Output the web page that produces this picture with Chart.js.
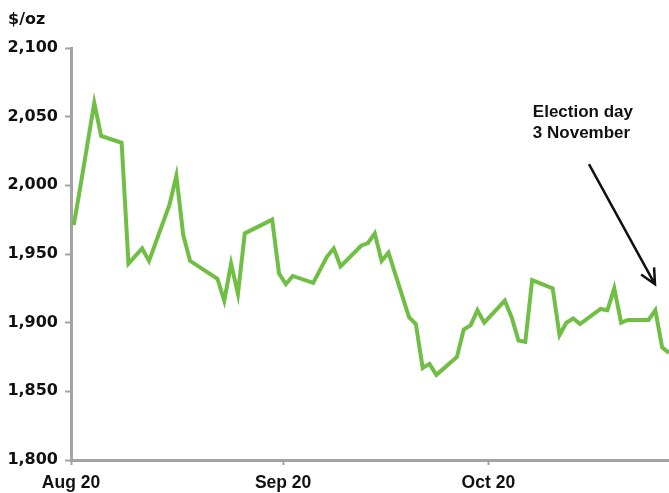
<!DOCTYPE html>
<html>
<head>
<meta charset="utf-8">
<script src="https://cdn.jsdelivr.net/npm/chart.js@4"></script>
<style>
  html, body { margin: 0; padding: 0; background: #fff; }
  #wrap { width: 669px; height: 493px; }
</style>
</head>
<body>
<div id="wrap"><canvas id="goldChart" width="669" height="493"></canvas></div>
<script>
// days counted from the first fixing in the series (early August 2020)
const days = [0, 1, 3, 4, 7, 8, 10, 11, 14, 15, 16, 17, 21, 22, 23, 24, 25, 29, 30, 31,
    32, 35, 37, 38, 39, 42, 43, 44, 45, 46, 49, 50, 51, 52, 53, 56, 57, 58, 59, 60,
    63, 64, 65, 66, 67, 70, 71, 72, 73, 74, 77, 78, 79, 80, 81, 84, 85, 86, 87];
// gold price, $/oz
const prices = [1971, 2000, 2060, 2036, 2031, 1943, 1954, 1945, 1986, 2007, 1964, 1945, 1932, 1916, 1943, 1921, 1965, 1975, 1936, 1928,
    1934, 1929, 1948, 1954, 1941, 1956, 1958, 1965, 1945, 1951, 1904, 1899, 1867, 1870, 1862, 1875, 1895, 1898, 1909, 1900,
    1916, 1904, 1887, 1886, 1931, 1925, 1891, 1900, 1903, 1899, 1910, 1909, 1925, 1900, 1902, 1902, 1909, 1882, 1878];

const xTickDays = [-0.4, 30.6, 60.6];
const xTickLabels = ['Aug 20', 'Sep 20', 'Oct 20'];
const yMin = 1800, yMax = 2100, yStep = 50;

const unitLabel = '$/oz';
const noteLines = ['Election day', '3 November'];
const noteAt = { x: 67.1, y: [2049.8, 2034.5] };
const arrowFrom = { x: 75.3, y: 2015.5 };
const arrowTo = { x: 84.95, y: 1927.9 };

const axisGrey = '#a3a3a3';
const green = '#70bf44';
const ink = '#111111';

const annotations = {
    id: 'annotations',
    afterDraw(chart) {
        const ctx = chart.ctx;
        const xs = chart.scales.x, ys = chart.scales.y;
        ctx.save();
        ctx.fillStyle = ink;
        ctx.textBaseline = 'alphabetic';
        ctx.textAlign = 'left';
        ctx.font = 'bold 16px "DejaVu Sans", sans-serif';
        ctx.fillText(unitLabel, 8, 24);

        ctx.font = 'bold 17px "Liberation Sans", sans-serif';
        noteLines.forEach((t, i) => {
            ctx.fillText(t, xs.getPixelForValue(noteAt.x), ys.getPixelForValue(noteAt.y[i]));
        });

        // arrow
        const x1 = xs.getPixelForValue(arrowFrom.x), y1 = ys.getPixelForValue(arrowFrom.y);
        const x2 = xs.getPixelForValue(arrowTo.x), y2 = ys.getPixelForValue(arrowTo.y);
        ctx.strokeStyle = ink;
        ctx.lineWidth = 2.5;
        ctx.beginPath();
        ctx.moveTo(x1, y1);
        ctx.lineTo(x2, y2);
        const ang = Math.atan2(y2 - y1, x2 - x1);
        const len = 17, spread = 0.45;
        ctx.moveTo(x2 - len * Math.cos(ang - spread), y2 - len * Math.sin(ang - spread));
        ctx.lineTo(x2, y2);
        ctx.lineTo(x2 - len * Math.cos(ang + spread), y2 - len * Math.sin(ang + spread));
        ctx.stroke();
        ctx.restore();
    }
};

new Chart(document.getElementById('goldChart'), {
    type: 'line',
    data: {
        datasets: [{
            data: days.map((d, i) => ({ x: d, y: prices[i] })),
            borderColor: green,
            borderWidth: 4,
            pointRadius: 0,
            tension: 0,
            fill: false
        }]
    },
    options: {
        responsive: false,
        animation: false,
        devicePixelRatio: 1,
        layout: { padding: { top: 48, right: 0, left: 0, bottom: 0 } },
        plugins: { legend: { display: false }, tooltip: { enabled: false } },
        scales: {
            x: {
                type: 'linear',
                min: xTickDays[0],
                max: 87,
                afterBuildTicks: scale => { scale.ticks = xTickDays.map(v => ({ value: v })); },
                afterFit: scale => { scale.height = 33; },
                border: { display: true, color: axisGrey, width: 3 },
                grid: { drawOnChartArea: false, color: axisGrey, tickLength: 5, tickWidth: 2 },
                ticks: {
                    autoSkip: false,
                    maxRotation: 0,
                    padding: 8,
                    color: ink,
                    font: { family: '"Liberation Sans", sans-serif', size: 17.5, weight: 'bold' },
                    callback: (v, i) => xTickLabels[i]
                }
            },
            y: {
                min: yMin,
                max: yMax,
                afterFit: scale => { scale.width = 71; },
                border: { display: true, color: axisGrey, width: 3 },
                grid: { drawOnChartArea: false, color: axisGrey, tickLength: 6, tickWidth: 2 },
                ticks: {
                    stepSize: yStep,
                    padding: 7,
                    color: ink,
                    font: { family: '"DejaVu Sans", sans-serif', size: 16, weight: 'bold' },
                    callback: v => v.toLocaleString('en-US')
                }
            }
        }
    },
    plugins: [annotations]
});
</script>
</body>
</html>
